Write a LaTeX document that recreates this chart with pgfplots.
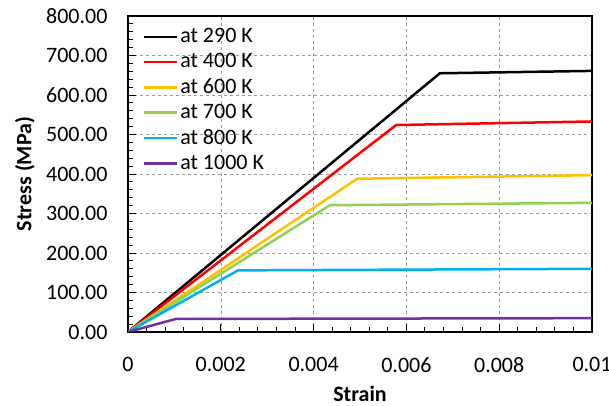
\documentclass[border=0pt]{standalone}
\usepackage{fontspec}
\setmainfont{Carlito}
\usepackage{pgfplots}
\pgfplotsset{compat=1.18}
\definecolor{cRed}{HTML}{FF0000}
\definecolor{cOrange}{HTML}{FFC000}
\definecolor{cGreen}{HTML}{92D050}
\definecolor{cBlue}{HTML}{00B0F0}
\definecolor{cPurple}{HTML}{7030A0}
\begin{document}
\fontsize{22}{26}\selectfont
\begin{tikzpicture}
\useasboundingbox (0,0) rectangle (609pt,406pt);
\begin{axis}[
 at={(128pt,74pt)}, anchor=south west,
 scale only axis, width=464pt, height=316pt,
 xmin=0, xmax=0.01, ymin=0, ymax=800,
 scaled x ticks=false,
 xtick={0,0.002,0.004,0.006,0.008,0.01},
 xticklabels={0,0.002,0.004,0.006,0.008,0.01},
 ytick={0,100,200,300,400,500,600,700,800},
 yticklabel style={/pgf/number format/fixed, /pgf/number format/fixed zerofill, /pgf/number format/precision=2, /pgf/number format/assume math mode=true, xshift=-13pt},
 xticklabel style={yshift=-18pt},
 minor x tick num=4, minor y tick num=4,
 tick align=inside, tick pos=left,
 major tick length=8pt, minor tick length=5pt,
 every tick/.style={black, line width=1pt},
 axis line style={line width=2.5pt},
 grid=major, major grid style={gray!80, dashed, line width=0.6pt},
 xlabel={\bfseries Strain}, ylabel={\bfseries Stress (MPa)},
 xlabel style={at={(axis description cs:0.5,-0.195)}, anchor=center},
 ylabel style={at={(axis description cs:-0.222,0.5)}, anchor=center},
 legend style={at={(0.025,0.975)}, anchor=north west, draw=none, fill=none, row sep=3.5pt, font=\fontsize{22}{26}\selectfont},
 legend cell align=left,
 legend image code/.code={\draw[#1, line width=2.5pt] (0pt,0pt) -- (33pt,0pt);},
 every axis plot/.append style={line width=2.5pt},
]
\addplot[black] coordinates {(0,0) (0.00672,655) (0.01,661)};
\addlegendentry{at 290 K}
\addplot[cRed] coordinates {(0,0) (0.00578,524) (0.01,533)};
\addlegendentry{at 400 K}
\addplot[cOrange] coordinates {(0,0) (0.00494,388) (0.01,397)};
\addlegendentry{at 600 K}
\addplot[cGreen] coordinates {(0,0) (0.00435,321) (0.01,327)};
\addlegendentry{at 700 K}
\addplot[cBlue] coordinates {(0,0) (0.00237,156) (0.01,160)};
\addlegendentry{at 800 K}
\addplot[cPurple] coordinates {(0,0) (0.00103,33) (0.01,35)};
\addlegendentry{at 1000 K}
\end{axis}
\end{tikzpicture}
\end{document}
